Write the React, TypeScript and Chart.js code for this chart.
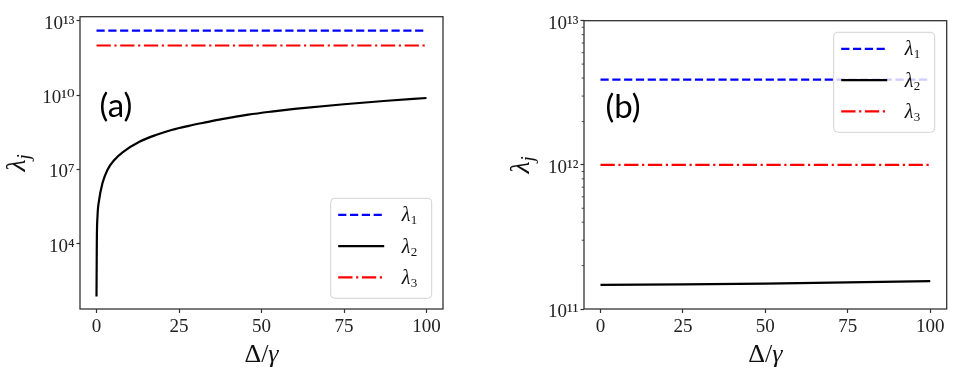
import React, { useEffect, useRef } from 'react';
import { Chart, registerables } from 'chart.js';

Chart.register(...registerables);

// ---------- Data ----------
// Panel (a)
const deltaA = [0, 0.1, 0.3, 0.8, 1.8, 3.3, 5.4, 8, 13, 18, 23, 28, 33, 38, 46, 53, 60, 75, 88, 100];
const lambda2A = [74, 1.26e4, 1.26e5, 5.9e5, 2.75e6, 9.5e6, 2.4e7, 5.0e7, 1.3e8, 2.45e8, 4.0e8, 5.75e8, 7.9e8, 1.07e9, 1.62e9, 2.15e9, 2.75e9, 4.27e9, 5.9e9, 7.6e9];
const deltaFlatA = [0, 100];
const lambda1A = [4.0e12, 4.0e12];
const lambda3A = [1.0e12, 1.0e12];

// Panel (b)
const deltaB = [0, 25, 50, 75, 100];
const lambda1B = [3.9e12, 3.9e12, 3.9e12, 3.9e12, 3.9e12];
const lambda2B = [1.47e11, 1.48e11, 1.5e11, 1.53e11, 1.56e11];
const lambda3B = [1.0e12, 1.0e12, 1.0e12, 1.0e12, 1.0e12];

// Ticks
const xTickValues = [0, 25, 50, 75, 100];
const xTickLabels = ['0', '25', '50', '75', '100'];
const yTickValuesA = [1e4, 1e7, 1e10, 1e13];
const yTickLabelsA = ['10⁴', '10⁷', '10¹⁰', '10¹³'];
const yTickValuesB = [1e11, 1e12, 1e13];
const yTickLabelsB = ['10¹¹', '10¹²', '10¹³'];
const yMinorTicksB = [2e11, 3e11, 4e11, 5e11, 6e11, 7e11, 8e11, 9e11, 2e12, 3e12, 4e12, 5e12, 6e12, 7e12, 8e12, 9e12];

// Labels
const seriesLabels = ['λ₁', 'λ₂', 'λ₃'];
const legendBase = 'λ';
const legendSubs = ['1', '2', '3'];
const panelTags = ['(a)', '(b)'];

// ---------- Styles ----------
const SERIF = '"Liberation Serif", "DejaVu Serif", serif';
const BLUE_DASH = [8.2, 3.6];
const RED_DASHDOT = [14.3, 3.6, 2.2, 3.6];
const LW = 2.2;

function toPoints(xs: number[], ys: number[]) {
  return xs.map((x, i) => ({ x, y: ys[i] }));
}

const decorPlugin = {
  id: 'panelDecor',
  afterDatasetsDraw(chart: any, _args: any, opts: any) {
    const ctx = chart.ctx as CanvasRenderingContext2D;
    const ca = chart.chartArea;
    const yScale = chart.scales.y;
    ctx.save();

    // frame (all four spines)
    ctx.setLineDash([]);
    ctx.strokeStyle = '#333';
    ctx.lineWidth = 1.3;
    ctx.strokeRect(ca.left, ca.top, ca.right - ca.left, ca.bottom - ca.top);

    // minor ticks
    ctx.lineWidth = 0.9;
    (opts.minorTicks || []).forEach((v: number) => {
      const py = yScale.getPixelForValue(v);
      ctx.beginPath();
      ctx.moveTo(ca.left - 2.3, py);
      ctx.lineTo(ca.left, py);
      ctx.stroke();
    });

    // panel tag
    ctx.fillStyle = '#000';
    ctx.font = '33px Lato, "Open Sans", sans-serif';
    ctx.textAlign = 'center';
    ctx.textBaseline = 'middle';
    ctx.fillText(opts.tag, ca.left + opts.tagDx, ca.top + opts.tagDy);

    // legend
    const lg = opts.legend;
    const bw = 101;
    const bh = 100;
    const bx = ca.right - lg.dx - bw;
    const by = lg.anchor === 'lower' ? ca.bottom - lg.dy - bh : ca.top + lg.dy;
    ctx.beginPath();
    (ctx as any).roundRect(bx, by, bw, bh, 4);
    ctx.fillStyle = 'rgba(255,255,255,0.8)';
    ctx.fill();
    ctx.strokeStyle = '#d2d2d2';
    ctx.lineWidth = 1;
    ctx.stroke();
    chart.data.datasets.forEach((ds: any, i: number) => {
      const ey = by + 16.5 + i * 31.3;
      ctx.beginPath();
      ctx.setLineDash(ds.borderDash || []);
      ctx.strokeStyle = ds.borderColor;
      ctx.lineWidth = ds.borderWidth;
      ctx.moveTo(bx + 7.5, ey);
      ctx.lineTo(bx + 53.5, ey);
      ctx.stroke();
      ctx.setLineDash([]);
      ctx.fillStyle = '#111';
      ctx.textAlign = 'left';
      ctx.textBaseline = 'alphabetic';
      ctx.font = 'italic 20px ' + SERIF;
      ctx.fillText(legendBase, bx + 71, ey + 6.5);
      const w = ctx.measureText(legendBase).width;
      ctx.font = '13px ' + SERIF;
      ctx.fillText(legendSubs[i], bx + 71 + w + 0.5, ey + 9.5);
    });

    // x-axis title: Δ/γ
    ctx.fillStyle = '#111';
    ctx.textBaseline = 'alphabetic';
    ctx.textAlign = 'left';
    const parts = [
      { t: 'Δ', f: '26px ' + SERIF },
      { t: '/', f: '26px ' + SERIF },
      { t: 'γ', f: 'italic 26px ' + SERIF },
    ];
    let total = 0;
    const widths = parts.map((p) => {
      ctx.font = p.f;
      const w = ctx.measureText(p.t).width;
      total += w;
      return w;
    });
    let tx = (ca.left + ca.right) / 2 - total / 2;
    parts.forEach((p, i) => {
      ctx.font = p.f;
      ctx.fillText(p.t, tx, 362);
      tx += widths[i];
    });

    // y-axis title: λ_j (rotated)
    ctx.save();
    ctx.translate(ca.left - 55, (ca.top + ca.bottom) / 2);
    ctx.rotate(-Math.PI / 2);
    ctx.font = 'italic 28px ' + SERIF;
    const wl = ctx.measureText('λ').width;
    ctx.font = 'italic 19px ' + SERIF;
    const wj = ctx.measureText('j').width;
    const start = -(wl + wj) / 2;
    ctx.font = 'italic 28px ' + SERIF;
    ctx.fillText('λ', start, 0);
    ctx.font = 'italic 19px ' + SERIF;
    ctx.fillText('j', start + wl, 5);
    ctx.restore();

    ctx.restore();
  },
};

type PanelSpec = {
  width: number;
  padTop: number;
  padRight: number;
  yWidth: number;
  yMin: number;
  yMax: number;
  yTickValues: number[];
  yTickLabels: string[];
  minorTicks: number[];
  datasets: any[];
  tag: string;
  tagDx: number;
  tagDy: number;
  legend: { anchor: 'lower' | 'upper'; dx: number; dy: number };
};

function makeConfig(p: PanelSpec): any {
  const tickFont = { family: SERIF, size: 19 };
  return {
    type: 'line',
    data: { datasets: p.datasets },
    options: {
      responsive: false,
      maintainAspectRatio: false,
      animation: false,
      events: [],
      layout: { padding: { left: 0, top: p.padTop, right: p.padRight, bottom: 0 } },
      plugins: {
        legend: { display: false },
        tooltip: { enabled: false },
        panelDecor: {
          minorTicks: p.minorTicks,
          tag: p.tag,
          tagDx: p.tagDx,
          tagDy: p.tagDy,
          legend: p.legend,
        },
      },
      scales: {
        x: {
          type: 'linear',
          min: -5,
          max: 105,
          bounds: 'data',
          afterBuildTicks: (s: any) => {
            s.ticks = xTickValues.map((v) => ({ value: v }));
          },
          afterFit: (s: any) => {
            s.height = 64;
          },
          ticks: {
            autoSkip: false,
            maxRotation: 0,
            padding: 3,
            color: '#222',
            font: tickFont,
            callback: (v: number) => xTickLabels[xTickValues.indexOf(v)] ?? '',
          },
          grid: {
            drawOnChartArea: false,
            drawTicks: true,
            tickLength: 4,
            tickColor: '#333',
            tickWidth: 1.2,
          },
          border: { display: false },
        },
        y: {
          type: 'logarithmic',
          min: p.yMin,
          max: p.yMax,
          bounds: 'data',
          afterBuildTicks: (s: any) => {
            s.ticks = p.yTickValues.map((v) => ({ value: v, major: true }));
          },
          afterFit: (s: any) => {
            s.width = p.yWidth;
          },
          ticks: {
            autoSkip: false,
            padding: 2,
            labelOffset: 3,
            color: '#222',
            font: tickFont,
            callback: (v: number) => p.yTickLabels[p.yTickValues.indexOf(v)] ?? '',
          },
          grid: {
            drawOnChartArea: false,
            drawTicks: true,
            tickLength: 3.5,
            tickColor: '#333',
            tickWidth: 1.2,
          },
          border: { display: false },
        },
      },
    },
    plugins: [decorPlugin],
  };
}

function line(label: string, data: any[], color: string, dash: number[] | undefined, mono = false) {
  return {
    label,
    data,
    borderColor: color,
    backgroundColor: color,
    borderWidth: LW,
    borderDash: dash,
    pointRadius: 0,
    fill: false,
    cubicInterpolationMode: mono ? 'monotone' : 'default',
    tension: 0,
  };
}

const panelA: PanelSpec = {
  width: 475,
  padTop: 16.7,
  padRight: 32,
  yWidth: 80,
  yMin: 23.4,
  yMax: 1.45e13,
  yTickValues: yTickValuesA,
  yTickLabels: yTickLabelsA,
  minorTicks: [],
  datasets: [
    line(seriesLabels[0], toPoints(deltaFlatA, lambda1A), '#0000ff', BLUE_DASH),
    line(seriesLabels[1], toPoints(deltaA, lambda2A), '#000000', undefined, true),
    line(seriesLabels[2], toPoints(deltaFlatA, lambda3A), '#ff0000', RED_DASHDOT),
  ],
  tag: panelTags[0],
  tagDx: 36,
  tagDy: 90,
  legend: { anchor: 'lower', dx: 11.3, dy: 10.7 },
};

const panelB: PanelSpec = {
  width: 477,
  padTop: 20.7,
  padRight: 10.3,
  yWidth: 104,
  yMin: 1e11,
  yMax: 1e13,
  yTickValues: yTickValuesB,
  yTickLabels: yTickLabelsB,
  minorTicks: yMinorTicksB,
  datasets: [
    line(seriesLabels[0], toPoints(deltaB, lambda1B), '#0000ff', BLUE_DASH),
    line(seriesLabels[1], toPoints(deltaB, lambda2B), '#000000', undefined),
    line(seriesLabels[2], toPoints(deltaB, lambda3B), '#ff0000', RED_DASHDOT),
  ],
  tag: panelTags[1],
  tagDx: 39,
  tagDy: 87,
  legend: { anchor: 'upper', dx: 12, dy: 11.6 },
};

function Panel({ spec, left }: { spec: PanelSpec; left: number }) {
  const ref = useRef<HTMLCanvasElement | null>(null);
  useEffect(() => {
    if (!ref.current) return;
    const chart = new Chart(ref.current, makeConfig(spec));
    return () => chart.destroy();
  }, [spec]);
  return (
    <canvas
      ref={ref}
      width={spec.width}
      height={373}
      style={{ position: 'absolute', left, top: 0, width: spec.width, height: 373, display: 'block' }}
    />
  );
}

export default function App() {
  return (
    <div style={{ position: 'fixed', left: 0, top: 0, width: 957, height: 373, background: '#fff', overflow: 'hidden' }}>
      <Panel spec={panelA} left={0} />
      <Panel spec={panelB} left={480} />
    </div>
  );
}
